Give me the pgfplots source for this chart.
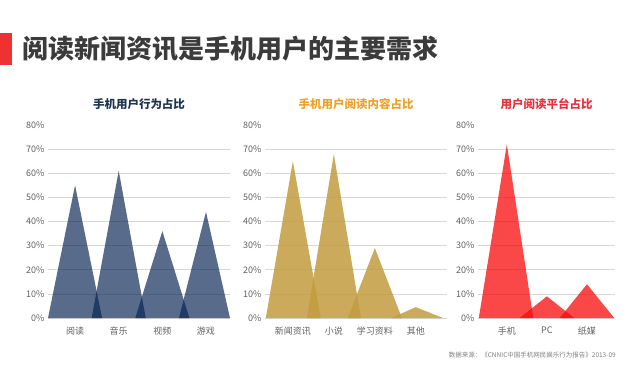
\documentclass[border=0pt]{standalone}
\usepackage{pgfplots}
\pgfplotsset{compat=1.18}
\usepackage{fontspec}
\setmainfont{Noto Sans CJK SC}
\definecolor{navy}{RGB}{9,37,83}
\definecolor{gold}{RGB}{194,156,62}
\definecolor{redf}{RGB}{248,10,10}
\definecolor{titlegray}{RGB}{59,59,59}
\definecolor{tickgray}{RGB}{95,95,95}
\definecolor{gridgray}{RGB}{215,215,215}
\definecolor{t1}{RGB}{31,52,81}
\definecolor{t2}{RGB}{240,160,40}
\definecolor{t3}{RGB}{232,48,58}
\definecolor{barred}{RGB}{238,50,50}
\pgfplotsset{
  panel/.style={
    scale only axis,
    height=193pt,
    ymin=0, ymax=80,
    axis line style={draw=none},
    ytick={0,10,...,70},
    extra y ticks={80},
    extra y tick style={grid=none},
    yticklabel={\pgfmathprintnumber{\tick}\%},
    /pgf/number format/assume math mode=true,
    ymajorgrids,
    grid style={gridgray, line width=0.6pt},
    major tick length=0pt,
    tick style={draw=none},
    yticklabel style={font=\fontsize{9}{10}\selectfont, text=tickgray},
    xticklabel style={font=\fontsize{9}{10}\selectfont, text=tickgray, yshift=-5pt},
    title style={at={(0.5,1)}, anchor=center, yshift=15pt, font=\fontsize{11.5}{12}\selectfont\bfseries},
  }
}
\begin{document}
\begin{tikzpicture}
\useasboundingbox (0,0) rectangle (640pt,373pt);
\fill[barred] (0,308pt) rectangle (12pt,340pt);
\node[anchor=west, inner sep=0pt, text=titlegray, font=\fontsize{26}{28}\selectfont\bfseries] at (22pt,324pt) {阅读新闻资讯是手机用户的主要需求};

% Panel 1
\begin{axis}[panel, at={(48pt,55pt)}, anchor=south west, width=182pt,
  xmin=-0.62, xmax=3.55,
  xtick={0,1,2,3}, xticklabels={阅读,音乐,视频,游戏},
  title={\textcolor{t1}{手机用户行为占比}}]
\addplot[draw=none, fill=navy, fill opacity=0.68] coordinates {(-0.62,0) (0,55) (0.62,0)} \closedcycle;
\addplot[draw=none, fill=navy, fill opacity=0.68] coordinates {(0.38,0) (1,61) (1.62,0)} \closedcycle;
\addplot[draw=none, fill=navy, fill opacity=0.68] coordinates {(1.38,0) (2,36) (2.62,0)} \closedcycle;
\addplot[draw=none, fill=navy, fill opacity=0.68] coordinates {(2.38,0) (3,44) (3.55,0)} \closedcycle;
\end{axis}

% Panel 2
\begin{axis}[panel, at={(265pt,55pt)}, anchor=south west, width=182pt,
  xmin=-0.68, xmax=3.76,
  xtick={0,1,2,3}, xticklabels={新闻资讯,小说,学习资料,其他},
  title={\textcolor{t2}{手机用户阅读内容占比}}]
\addplot[draw=none, fill=gold, fill opacity=0.85] coordinates {(-0.66,0) (0,65) (0.68,0)} \closedcycle;
\addplot[draw=none, fill=gold, fill opacity=0.85] coordinates {(0.34,0) (1,68) (1.66,0)} \closedcycle;
\addplot[draw=none, fill=gold, fill opacity=0.85] coordinates {(1.34,0) (2,29) (2.66,0)} \closedcycle;
\addplot[draw=none, fill=gold, fill opacity=0.85] coordinates {(2.4,0) (3,4.5) (3.66,0)} \closedcycle;
\end{axis}

% Panel 3
\begin{axis}[panel, at={(478pt,55pt)}, anchor=south west, width=137pt,
  xmin=-0.72, xmax=2.7,
  xtick={0,1,2}, xticklabels={手机,PC,纸媒},
  title={\textcolor{t3}{用户阅读平台占比}}]
\addplot[draw=none, fill=redf, fill opacity=0.75] coordinates {(-0.7,0) (0,72) (0.66,0)} \closedcycle;
\addplot[draw=none, fill=redf, fill opacity=0.75] coordinates {(0.32,0) (1,9) (1.68,0)} \closedcycle;
\addplot[draw=none, fill=redf, fill opacity=0.75] coordinates {(1.32,0) (2,14) (2.68,0)} \closedcycle;
\end{axis}

\node[anchor=east, inner sep=0pt, text=gray, font=\fontsize{6.5}{7}\selectfont] at (616pt,18pt) {数据来源：《CNNIC中国手机网民娱乐行为报告》2013-09};
\end{tikzpicture}
\end{document}
